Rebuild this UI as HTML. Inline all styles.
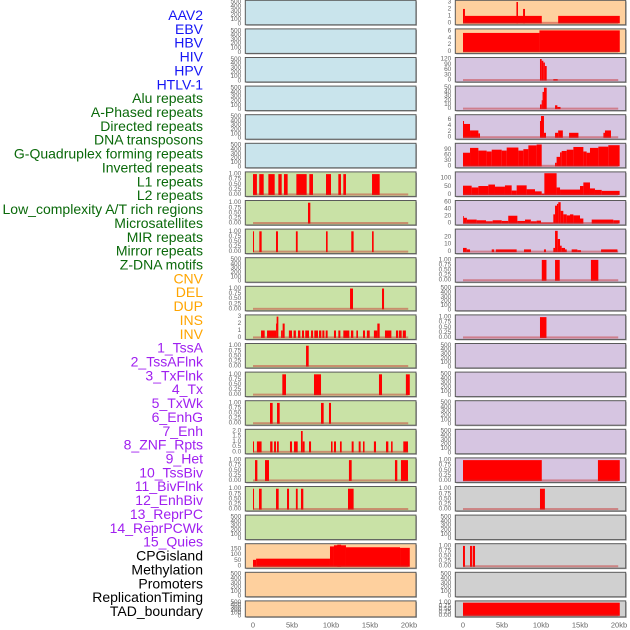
<!DOCTYPE html>
<html><head><meta charset="utf-8"><style>
html,body{margin:0;padding:0;background:#fff;}
svg{display:block;font-family:"Liberation Sans",sans-serif;}
</style></head><body>
<svg id="chart" width="630" height="630" viewBox="0 0 630 630" xmlns="http://www.w3.org/2000/svg"></svg>
<script>
// ---- data ----
const trackNames = ["AAV2","EBV","HBV","HIV","HPV","HTLV-1","Alu repeats","A-Phased repeats","Directed repeats","DNA transposons","G-Quadruplex forming repeats","Inverted repeats","L1 repeats","L2 repeats","Low_complexity A/T rich regions","Microsatellites","MIR repeats","Mirror repeats","Z-DNA motifs","CNV","DEL","DUP","INS","INV","1_TssA","2_TssAFlnk","3_TxFlnk","4_Tx","5_TxWk","6_EnhG","7_Enh","8_ZNF_Rpts","9_Het","10_TssBiv","11_BivFlnk","12_EnhBiv","13_ReprPC","14_ReprPCWk","15_Quies","CPGisland","Methylation","Promoters","ReplicationTiming","TAD_boundary"];
const trackGroups = ["v","v","v","v","v","v","r","r","r","r","r","r","r","r","r","r","r","r","r","s","s","s","s","s","c","c","c","c","c","c","c","c","c","c","c","c","c","c","c","o","o","o","o","o"];
const xTicks = [0,5,10,15,20];
const xTickLabels = ["0","5kb","10kb","15kb","20kb"];
const emptyTicks = [0,100,200,300,400,500];
const blockTicks = [0,0.25,0.5,0.75,1];

// left column
const l06Blocks = [[0,0.5],[0.8,1.37],[1.97,2.78],[3.25,3.68],[3.97,4.44],[5.56,6.88],[7.22,7.69],[9.36,10.0],[10.94,11.28],[11.58,11.92],[15.26,16.24]];
const l07Blocks = [[7.05,7.35]];
const l08Blocks = [[0,0.13],[0.81,1.11],[2.95,3.2],[5.5,5.73],[9.36,9.57],[12.6,12.9],[15.26,15.47]];
const l10Blocks = [[12.44,12.82],[16.54,16.8]];
const l11Hist = [[1.03,1.5,1],[1.8,2.95,1],[2.95,3.03,2],[3.03,3.25,3],[3.6,3.8,1],[3.8,4.06,2],[4.6,5.0,1],[5.2,5.5,1],[5.77,6.07,1],[6.28,6.54,1],[6.7,7.18,1],[7.44,7.7,1],[7.86,8.33,1],[8.46,8.76,1],[8.89,9.15,1],[9.32,9.57,1],[10.38,10.64,1],[10.94,11.2,1],[11.58,12.35,1],[12.56,12.86,1],[13.25,13.46,1],[14.1,14.36,1],[14.6,14.96,1],[15.5,15.94,1],[15.94,16.24,2],[16.92,17.18,1],[17.18,17.74,1],[18.33,18.6,1],[18.7,19.06,1],[19.2,19.6,1]];
const l12Blocks = [[6.8,7.14]];
const l13Blocks = [[3.76,4.23],[7.82,8.72],[16.15,16.54],[19.6,20.1]];
const l14Blocks = [[2.18,2.52],[3.08,3.42],[8.72,9.06],[9.74,10.0]];
const l15Hist = [[0,0.13,1],[0.5,1.1,1],[2.2,2.5,1],[2.7,2.95,1],[3.08,3.3,1],[4.74,5.0,1],[5.26,5.73,1],[6.15,6.37,2],[6.37,6.62,1],[7.18,7.44,1],[10.0,10.2,1],[10.38,10.64,1],[11.15,11.37,1],[12.65,12.9,1],[13.55,13.8,1],[14.1,14.3,1],[15.5,15.77,1],[17.05,17.35,1],[17.7,17.9,1],[19.27,19.87,1]];
const l16Blocks = [[0.26,0.56],[1.54,2.05],[12.3,12.65],[18.2,18.5],[18.97,19.87]];
const l17Blocks = [[0,0.13],[0.77,1.11],[2.95,3.29],[4.36,4.62],[5.5,5.73],[6.15,6.45],[12.18,12.9]];
const l19Hist = [[0,0.4,55],[0.4,9.87,65],[9.87,10.38,170],[10.38,11.92,180],[10.8,11.3,185],[11.92,18.85,163],[18.85,20.1,158]];

// right column
const r00Hist = [[0,0.25,2],[0.25,10.1,1],[6.85,7.05,3],[7.7,7.95,2],[12.2,20.1,1]];
const r01Hist = [[0,9.8,5.5],[9.8,20.1,6.25]];
const r02Hist = [[9.87,10.09,120],[10.09,10.3,110],[10.3,10.5,100],[10.5,10.73,80],[11.58,12.14,5]];
const r03Hist = [[9.87,10.09,10],[10.09,10.2,20],[10.2,10.38,40],[10.38,10.73,50],[11.8,12.1,8],[12.1,12.5,4]];
const r04Hist = [[0,0.13,5.5],[0.13,0.9,4.5],[0.9,1.97,2.3],[1.97,2.18,1.3],[9.87,10.0,5.5],[10.0,10.38,7.2],[10.38,10.64,1.5],[11.8,12.2,1.5],[12.2,12.8,2.3],[13.6,14.8,1.5],[18.0,18.2,1.5],[18.2,18.97,2.3]];
const r05Hist = [[0,0.9,73],[0.9,1.97,100],[1.97,3.03,85],[3.03,3.68,80],[3.68,4.96,90],[4.96,5.6,85],[5.6,7.1,102],[7.1,7.74,85],[7.74,8.38,93],[8.38,9.44,114],[9.44,10.09,119],[11.8,12.0,17],[12.0,12.44,50],[12.44,12.65,75],[12.65,13.3,83],[13.3,14.15,90],[14.15,15.43,105],[15.43,15.85,80],[15.85,16.28,73],[16.28,17.35,100],[17.35,18.63,107],[18.63,20.08,115]];
const r06Hist = [[0,1.11,54],[1.11,1.97,43],[1.97,3.25,52],[3.25,4.1,61],[4.1,5.38,48],[5.38,6.24,56],[6.24,6.88,24],[6.88,8.16,56],[8.16,9.23,32],[9.23,10.09,19],[10.09,10.43,5],[10.43,12.0,131],[12.0,12.44,43],[12.44,15.0,30],[15.0,15.43,52],[15.43,16.28,74],[16.28,16.92,37],[16.92,17.78,28],[17.78,20.08,22]];
const r07Hist = [[0,0.1,20],[0.1,0.5,15],[0.5,1.75,10],[1.75,2.95,8],[2.95,3.8,5],[3.8,4.96,8],[4.96,5.8,6],[5.8,6.97,21],[6.97,7.95,6],[7.95,8.7,10],[8.7,9.44,5],[9.44,10.0,7],[10.0,11.58,1],[11.58,11.8,25],[11.8,12.05,50],[12.05,12.22,55],[12.22,12.52,60],[12.52,12.86,35],[12.86,13.3,25],[13.3,13.72,22],[13.72,14.15,25],[14.15,15.0,22],[15.0,15.43,13],[16.5,19.27,10],[19.27,20.08,8]];
const r08Hist = [[0,0.47,5],[0.47,0.9,3],[3.68,4.0,3],[4.2,6.88,3],[7.82,8.72,3],[10.38,10.64,3],[11.58,11.8,5],[11.8,12.14,28],[12.14,12.44,17],[12.44,12.65,8],[12.65,13.08,5],[13.08,13.3,3],[13.93,14.66,3],[14.66,15.13,2],[17.7,19.8,3]];
const r09Blocks = [[10.1,10.7],[11.8,12.4],[16.4,17.35]];
const r11Blocks = [[9.87,10.7]];
const r16Blocks = [[0,10.1],[17.3,20.1]];
const r17Blocks = [[9.87,10.5]];
const r19Blocks = [[0,0.25],[0.9,1.15],[1.24,1.54]];
const r21Blocks = [[0,20.1]];

// ---- layout ----
const BG = {b:"#c9e4ec", g:"#c9e2a6", o:"#fed09e", p:"#d6c5e1", y:"#d0d0d0"};
const LABEL_COLORS = {v:"#1515f5", r:"#0a690a", s:"#ffa500", c:"#a020f0", o:"#000000"};
const leftBg = "bbbbbbgggggggggggggooo";
const rightBg = "oopppppppppppppppyyyyy";
const leftSpec = ["e","e","e","e","e","e",["b",l06Blocks],["b",l07Blocks],["b",l08Blocks],"e",["b",l10Blocks],["h",l11Hist,[0,1,2,3],3.1,0],["b",l12Blocks],["b",l13Blocks],["b",l14Blocks],["h",l15Hist,[0,0.5,1,1.5,2],2.07,1],["b",l16Blocks],["b",l17Blocks],"e",["h",l19Hist,[0,50,100,150],185,0],"e","e"];
const rightSpec = [["h",r00Hist,[0,1,2,3],3.1,0],["h",r01Hist,[0,2,4,6],6.4,0],["h",r02Hist,[0,30,60,90,120],123,0],["h",r03Hist,[0,10,20,30,40,50],51.5,0],["h",r04Hist,[0,2,4,6],7.3,0],["h",r05Hist,[0,30,60,90],120,0],["h",r06Hist,[0,50,100],133,0],["h",r07Hist,[0,20,40,60],62,0],["h",r08Hist,[0,10,20],29,0],["b",r09Blocks],"e",["b",r11Blocks],"e","e","e","e",["b",r16Blocks],["b",r17Blocks],"e",["b",r19Blocks],"e",["b",r21Blocks]];

const NS = "http://www.w3.org/2000/svg";
const svg = document.getElementById("chart");
function mk(tag, attrs, parent){ const e=document.createElementNS(NS,tag); for(const k in attrs) e.setAttribute(k,attrs[k]); (parent||svg).appendChild(e); return e; }

// labels
trackNames.forEach((n,i)=>{
  const t = mk("text",{x:203,y:15+13.86*i,"text-anchor":"end","dominant-baseline":"central","font-size":"14",fill:LABEL_COLORS[trackGroups[i]]});
  t.textContent = n;
  
  
});

function rowTop(k){ return 0.3 + 28.6*k; }
function rowH(k){ return k===21 ? 16 : 24.5; }

function drawPanel(col, k, spec, bgKey){
  const x0 = col===0 ? 245.3 : 455.3, x1 = col===0 ? 416 : 625.7;
  const zero = col===0 ? 253 : 463;
  const xs = kb => zero + kb*7.8;
  const top = rowTop(k), h = rowH(k), bot = top + h;
  const g = mk("g",{});
  
  
  mk("rect",{x:x0+1,y:top+1,width:x1-x0,height:h,fill:"#a8a8a8"},g);
  mk("rect",{x:x0,y:top,width:x1-x0,height:h,fill:BG[bgKey],stroke:"#5a5a5a","stroke-width":1},g);
  let type = spec==="e" ? "e" : spec[0];
  let ticks, hi, dec;
  if(type==="e"){ ticks=emptyTicks; hi=520; dec=0; }
  else if(type==="b"){ ticks=blockTicks; hi=1.06; dec=2; }
  else { ticks=spec[2]; hi=spec[3]; dec=spec[4]; }
  const lo = type==="e" ? 0 : -0.045*hi;
  const ys = v => bot - 1 - (v-lo)/(hi-lo)*(h-2);
  ticks.forEach(tv=>{
    const t = mk("text",{x:x0-4,y:ys(tv),"text-anchor":"end","dominant-baseline":"central","font-size":"6.5",fill:"#666"},g);
    t.textContent = dec ? tv.toFixed(dec) : String(tv);
    
    
  });
  if(type==="e") return;
  const data = spec[1];
  data.forEach(d=>{
    const v = type==="b" ? 1 : d[2];
    const r = mk("rect",{x:xs(d[0]),y:ys(v),width:Math.max(0.8,xs(d[1])-xs(d[0])),height:ys(0)-ys(v)+0.5,fill:"#ff0000"},g);
    
    
  });
  const bl = mk("rect",{x:xs(0),y:ys(0)-1,width:xs(19.9)-xs(0),height:2,fill:"rgba(200,40,40,0.45)"},g);
  
  
}
for(let k=0;k<22;k++){
  drawPanel(0,k,leftSpec[k],leftBg[k]);
  drawPanel(1,k,rightSpec[k],rightBg[k]);
}
// x axes
[253,463].forEach((z,ci)=>{
  xTicks.forEach((tv,i)=>{
    const t = mk("text",{x:z+tv*7.8,y:625,"text-anchor":"middle","dominant-baseline":"central","font-size":"7.5",fill:"#666"});
    t.textContent = xTickLabels[i];
    
    
  });
});
</script>
</body></html>
